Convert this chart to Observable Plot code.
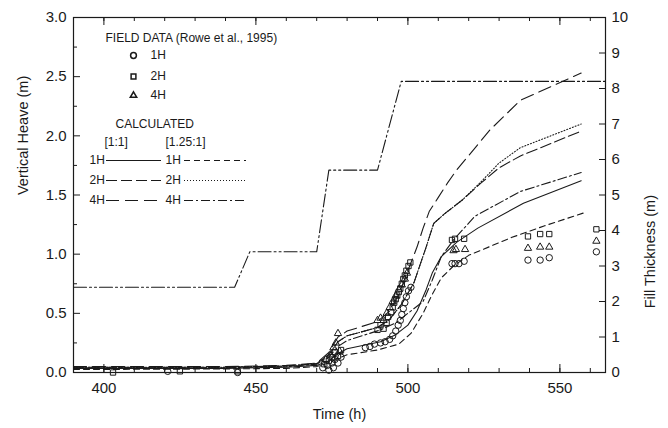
<!DOCTYPE html>
<html><head><meta charset="utf-8">
<script src="https://cdn.jsdelivr.net/npm/d3@7"></script>
<script src="https://cdn.jsdelivr.net/npm/@observablehq/plot@0.6"></script>
<style>body{margin:0;background:#fff}</style>
</head><body><div id="chart"></div>
<script>
// ---- tick values ----
const xTickValues = [400, 450, 500, 550];
const xMinorTickValues = [400, 410, 420, 430, 440, 450, 460, 470, 480, 490, 500, 510, 520, 530, 540, 550, 560];
const leftTickValues = [0.0, 0.5, 1.0, 1.5, 2.0, 2.5, 3.0];
const leftMinorTickValues = [0.25, 0.75, 1.25, 1.75, 2.25, 2.75];
const rightTickValues = [0, 1, 2, 3, 4, 5, 6, 7, 8, 9, 10];

// ---- fill thickness (right axis, m) ----
const fillTime = [390, 443, 448, 470, 474, 490, 497.8, 565];
const fillThickness = [2.4, 2.4, 3.4, 3.4, 5.7, 5.7, 8.2, 8.2];

// ---- calculated heave (m) [time, heave] ----
const calc1H_1to1 = [[390,0.035],[440,0.035],[460,0.045],[470,0.06],[474,0.1],[477,0.16],[480,0.2],[491,0.26],[496,0.32],[500,0.4],[503,0.52],[506,0.7],[508,0.84],[511,0.98],[516,1.1],[523,1.22],[538,1.43],[557,1.62]];
const calc2H_1to1 = [[390,0.045],[440,0.045],[460,0.055],[470,0.075],[474,0.15],[477,0.26],[480,0.31],[490,0.38],[494,0.45],[498,0.58],[502,0.76],[506,1.06],[508.5,1.26],[512,1.34],[518,1.46],[524,1.6],[530,1.73],[537,1.83],[557,2.04]];
const calc4H_1to1 = [[390,0.05],[440,0.05],[460,0.06],[470,0.08],[474,0.17],[477,0.3],[480,0.35],[490,0.43],[494,0.52],[497,0.66],[500,0.86],[503,1.06],[505,1.22],[507,1.36],[510,1.48],[513,1.6],[516,1.71],[527,2.05],[537,2.3],[557,2.53]];
const calc1H_125 = [[390,0.025],[440,0.03],[460,0.035],[470,0.05],[474,0.08],[477,0.12],[480,0.15],[490,0.19],[497,0.24],[501,0.33],[505,0.5],[508,0.66],[511,0.8],[515,0.9],[520,0.99],[534,1.14],[545,1.24],[558,1.35]];
const calc2H_125 = [[390,0.045],[440,0.045],[460,0.055],[470,0.075],[474,0.15],[477,0.26],[480,0.31],[490,0.38],[494,0.45],[498,0.58],[502,0.76],[506,1.06],[508.5,1.26],[512,1.34],[518,1.46],[524,1.61],[530,1.77],[537,1.9],[557,2.1]];
const calc4H_125 = [[390,0.04],[440,0.04],[460,0.05],[470,0.07],[474,0.13],[477,0.22],[480,0.27],[491,0.36],[496,0.42],[500,0.5],[505,0.6],[508,0.78],[511,0.98],[515,1.12],[522,1.32],[537,1.53],[557,1.69]];

// ---- field data (Rowe et al., 1995) [time, heave] ----
const field1H = [[421,0.01],[444,0.0],[472,0.04],[473.5,0.06],[474,0.02],[475,0.08],[475.5,0.04],[476,0.11],[477,0.08],[478,0.13],[486,0.21],[487.5,0.22],[489,0.24],[491,0.25],[492.5,0.26],[494,0.28],[495,0.31],[496,0.35],[496.8,0.4],[497.5,0.44],[498,0.49],[498.5,0.54],[499,0.59],[499.5,0.64],[500.2,0.69],[501,0.72],[514.5,0.92],[515.5,0.92],[516.8,0.92],[518.5,0.94],[539.5,0.95],[543.5,0.95],[546.5,0.97],[562,1.02]];
const field2H = [[403,0.0],[425,0.01],[444,0.01],[472.5,0.07],[474,0.1],[475,0.13],[476,0.17],[477,0.14],[478,0.19],[490,0.36],[491,0.4],[492,0.37],[493,0.42],[493.5,0.47],[494.5,0.51],[495,0.55],[495.5,0.59],[496,0.62],[496.5,0.65],[497,0.68],[497.5,0.71],[498,0.75],[498.5,0.79],[499,0.82],[499.5,0.86],[500.2,0.9],[500.8,0.93],[514.5,1.12],[515.5,1.13],[518.5,1.13],[539.5,1.15],[543.5,1.17],[546.5,1.17],[562,1.21]];
const field4H = [[473,0.11],[474.5,0.15],[475.5,0.21],[476.3,0.25],[477,0.33],[477.5,0.18],[490,0.44],[491,0.46],[492,0.44],[493,0.5],[494,0.55],[495,0.6],[496,0.65],[497,0.7],[498,0.74],[499,0.79],[499.7,0.84],[515,1.03],[515.8,1.04],[518.8,1.04],[539.5,1.05],[543.5,1.06],[546.5,1.06],[562,1.11]];

// ---- legend text ----
const fieldTitle = "FIELD DATA (Rowe et al., 1995)";
const seriesLabels = ["1H", "2H", "4H"];
const calcTitle = "CALCULATED";
const ratioLabels = ["[1:1]", "[1.25:1]"];

// ---- layout ----
const W = 668, H = 428, mL = 73, mR = 63, mT = 17, mB = 56;
const frameW = W - mL - mR, frameH = H - mT - mB;
const xDom = [390, 565], yDom = [0, 3];
const ratio = yDom[1] / 10; // right axis 0..10 m maps onto left 0..3 m
const px2x = p => xDom[0] + p / frameW * (xDom[1] - xDom[0]);
const px2y = p => yDom[1] - p / frameH * (yDom[1] - yDom[0]);
const INK = "#1a1a1a";
const FONT = "Liberation Sans, Arial, Helvetica, sans-serif";

const styles = {
  solid: null,
  dash125: "6,4",
  ls: "11,4",
  dotted: "1,2",
  longdash: "13,6",
  dashdot: "9,3,2,3"
};
const curves = [
  {data: calc1H_1to1, dash: styles.solid},
  {data: calc2H_1to1, dash: styles.ls},
  {data: calc4H_1to1, dash: styles.longdash},
  {data: calc1H_125, dash: styles.dash125},
  {data: calc2H_125, dash: styles.dotted},
  {data: calc4H_125, dash: styles.dashdot}
];
const symbols = ["circle", "square", "triangle"];
const symR = [3.2, 3.0, 2.7];
const fields = [field1H, field2H, field4H];

const fillData = fillTime.map((t, i) => ({t, v: fillThickness[i] * ratio}));

const marks = [];
curves.forEach(c => marks.push(Plot.line(c.data, {x: d => d[0], y: d => d[1], stroke: INK, strokeWidth: 1.1, strokeDasharray: c.dash})));
marks.push(Plot.line(fillData, {x: "t", y: "v", stroke: INK, strokeWidth: 1.1, strokeDasharray: "13,3,2,3,2,3"}));
fields.forEach((f, k) => marks.push(Plot.dot(f, {x: d => d[0], y: d => d[1], symbol: symbols[k], r: symR[k], stroke: INK, strokeWidth: 1, fill: "none"})));

// frame and inward ticks
marks.push(Plot.frame({stroke: INK, strokeWidth: 1.2}));
marks.push(Plot.tickX(xMinorTickValues, {insetTop: frameH - 4, stroke: INK}));
marks.push(Plot.tickX(xTickValues, {insetTop: frameH - 8, stroke: INK}));
marks.push(Plot.tickX(xMinorTickValues, {insetBottom: frameH - 4, stroke: INK}));
marks.push(Plot.tickX(xTickValues, {insetBottom: frameH - 8, stroke: INK}));
marks.push(Plot.tickY(leftMinorTickValues, {insetRight: frameW - 4, stroke: INK}));
marks.push(Plot.tickY(leftTickValues, {insetRight: frameW - 7, stroke: INK}));
marks.push(Plot.tickY(rightTickValues.map(d => d * ratio), {insetLeft: frameW - 6, stroke: INK}));

// axes labels
marks.push(Plot.axisX(xTickValues, {tickSize: 0, tickPadding: 10, label: null, fontSize: 15, fill: INK}));
marks.push(Plot.axisY(leftTickValues, {tickSize: 0, tickPadding: 7, label: null, fontSize: 15, fill: INK, tickFormat: d3.format(".1f")}));
marks.push(Plot.axisY(rightTickValues.map(d => d * ratio), {anchor: "right", tickSize: 0, tickPadding: 6, label: null, fontSize: 15, fill: INK, tickFormat: d => Math.round(d / ratio)}));
marks.push(Plot.text(["Time (h)"], {frameAnchor: "bottom", dy: 46, fontSize: 14.5, fill: INK}));
marks.push(Plot.text(["Vertical Heave (m)"], {frameAnchor: "left", dx: -50, rotate: -90, fontSize: 14.5, fill: INK}));
marks.push(Plot.text(["Fill Thickness (m)"], {frameAnchor: "right", dx: 45, rotate: -90, fontSize: 14.5, fill: INK}));

// legend (pixel offsets from frame top-left)
const LF = 12;
const lt = (s, dx, dy) => Plot.text([s], {frameAnchor: "top-left", dx, dy, textAnchor: "start", lineAnchor: "middle", fontSize: LF, fill: INK});
marks.push(lt(fieldTitle, 32, 21));
const symRows = [38, 59, 78];
seriesLabels.forEach((lab, k) => {
  marks.push(Plot.dot([0], {frameAnchor: "top-left", dx: 60, dy: symRows[k], symbol: symbols[k], r: symR[k] - 0.3, stroke: INK, fill: "none"}));
  marks.push(lt(lab, 77, symRows[k]));
});
marks.push(lt(calcTitle, 42, 107));
marks.push(lt(ratioLabels[0], 31, 125));
marks.push(lt(ratioLabels[1], 92, 125));
const calcRows = [143, 163, 183];
const colLab = [16, 92], colLine = [[33, 88], [111, 173]];
curves.forEach((c, i) => {
  const col = i < 3 ? 0 : 1, row = i % 3;
  marks.push(lt(seriesLabels[row], colLab[col], calcRows[row]));
  marks.push(Plot.ruleY([px2y(calcRows[row])], {x1: px2x(colLine[col][0]), x2: px2x(colLine[col][1]), stroke: INK, strokeWidth: 1.1, strokeDasharray: c.dash}));
});

const chart = Plot.plot({
  width: W, height: H,
  marginLeft: mL, marginRight: mR, marginTop: mT, marginBottom: mB,
  style: {fontFamily: FONT, fontSize: "15px", background: "#fff", color: INK},
  x: {domain: xDom},
  y: {domain: yDom},
  marks
});
document.getElementById("chart").append(chart);
</script>
</body></html>
